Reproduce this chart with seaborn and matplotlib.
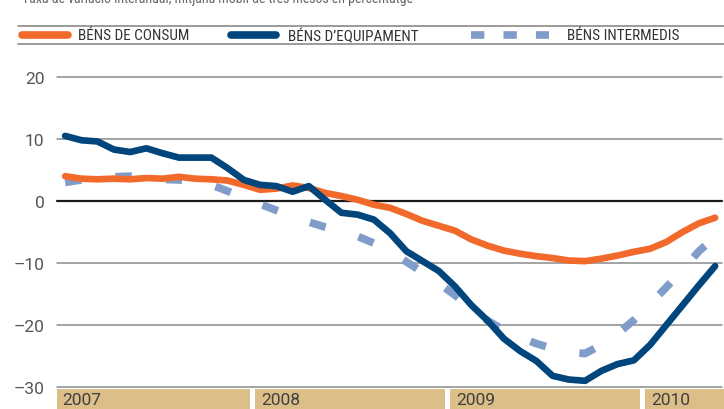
import matplotlib
matplotlib.use("Agg")
import matplotlib.pyplot as plt
import pandas as pd
import seaborn as sns

# Monthly series, Jan 2007 .. May 2010 (year-on-year change, %)
months = list(range(41))
consum = [4.0, 3.6, 3.5, 3.6, 3.5, 3.7, 3.6, 3.9, 3.6, 3.5, 3.3, 2.6,
          1.8, 2.0, 2.5, 2.1, 1.3, 0.8, 0.2, -0.6, -1.1, -2.1, -3.2, -4.0,
          -4.8, -6.2, -7.2, -8.0, -8.5, -8.9, -9.2, -9.6, -9.7, -9.3, -8.8, -8.2,
          -7.7, -6.6, -5.0, -3.6, -2.7]
equipament = [10.5, 9.8, 9.6, 8.3, 7.9, 8.5, 7.7, 7.0, 7.0, 7.0, 5.3, 3.4,
              2.6, 2.4, 1.5, 2.4, 0.2, -1.9, -2.2, -3.0, -5.2, -8.1, -9.7, -11.3,
              -13.8, -16.8, -19.3, -22.2, -24.2, -25.8, -28.2, -28.8, -29.0, -27.4, -26.3, -25.7,
              -23.2, -20.0, -16.8, -13.6, -10.5]
intermedis = [3.0, 3.4, 3.7, 3.9, 4.0, 3.8, 3.5, 3.4, 3.2, 2.6, 1.6, 0.5,
              -0.5, -1.5, -2.5, -3.4, -4.2, -4.9, -5.7, -6.8, -8.2, -9.8, -11.5, -13.3,
              -15.2, -17.3, -19.3, -20.8, -22.0, -23.0, -23.8, -24.4, -24.6, -23.2, -21.4, -19.2,
              -16.6, -13.9, -11.1, -8.1, -5.8]

series_names = ["BÉNS DE CONSUM", "BÉNS D\u2019EQUIPAMENT", "BÉNS INTERMEDIS"]
years = ["2007", "2008", "2009", "2010"]
year_start = [0, 12, 24, 36]
y_ticks = [20, 10, 0, -10, -20, -30]
y_labels = ["20", "10", "0", "\u201310", "\u201320", "\u201330"]

orange = "#F26A2B"
navy = "#00457C"
lightblue = "#7F9DC8"
tan = "#DCBE88"
grey = "#8A8A8A"
fam = ["Roboto Condensed", "Roboto", "DejaVu Sans"]
digits = ["Roboto", "DejaVu Sans"]

sns.set_style("white")
plt.rcParams["font.family"] = fam

W, H = 724, 410
fig = plt.figure(figsize=(W / 100, H / 100), dpi=100)

# main plotting area
ax = fig.add_axes([57 / W, 1 - 388 / H, 665 / W, 310 / H])
ax.set_xlim(-0.5, -0.5 + 665 / 16.25)
ax.set_ylim(-30, 20)

for t in y_ticks:
    if t == 0:
        ax.axhline(t, color="#1a1a1a", lw=1.6, clip_on=False, zorder=1)
    else:
        ax.axhline(t, color=grey, lw=1.1, clip_on=False, zorder=1)

df = pd.DataFrame({"month": months, "consum": consum,
                   "equipament": equipament, "intermedis": intermedis})

sns.lineplot(data=df, x="month", y="intermedis", ax=ax, color=lightblue,
             lw=5.6, zorder=2)
ax.lines[-1].set_dashes((2.1, 4.4))
ax.lines[-1].set_dash_capstyle("butt")
sns.lineplot(data=df, x="month", y="consum", ax=ax, color=orange, lw=4.8,
             zorder=3, solid_capstyle="round")
sns.lineplot(data=df, x="month", y="equipament", ax=ax, color=navy, lw=4.8,
             zorder=4, solid_capstyle="round")

ax.set_yticks(y_ticks, y_labels)
ax.set_xticks([])
ax.tick_params(axis="y", length=0, pad=9, labelsize=12.5, labelcolor="#555555")
for lab in ax.get_yticklabels():
    lab.set_family(digits)
ax.set_xlabel("")
ax.set_ylabel("")
sns.despine(ax=ax, left=True, bottom=True)

# year strip
axy = fig.add_axes([57 / W, 0, 667 / W, 20 / H])
axy.set_xlim(-0.5, -0.5 + 667 / 16.25)
axy.set_ylim(0, 1)
for i, (yr, s) in enumerate(zip(years, year_start)):
    left = -0.5 if i == 0 else s - 0.3
    right = year_start[i + 1] - 0.6 if i + 1 < len(years) else 50
    axy.axvspan(left, right, color=tan, lw=0)
    axy.text(left + 0.35, 0.1, yr, fontsize=12.5, color="#3f3f3f",
             family=digits, va="bottom", ha="left")
axy.axis("off")

# legend band at the top
axl = fig.add_axes([0, 1 - 50 / H, 1, 50 / H])
axl.set_xlim(0, W)
axl.set_ylim(50, 0)
axl.axis("off")
axl.text(22, 3, "Taxa de variació interanual, mitjana mòbil de tres mesos en percentatge",
         fontsize=10, color="#666666", va="baseline", ha="left")
axl.plot([18, W], [27, 27], color=grey, lw=1.2)
axl.plot([18, W], [45, 45], color=grey, lw=1.2)
axl.plot([22, 68], [36, 36], color=orange, lw=5.5, solid_capstyle="round")
axl.plot([231, 276], [36, 36], color=navy, lw=5.5, solid_capstyle="round")
dl = axl.plot([471, 549], [36, 36], color=lightblue, lw=5.5)[0]
dl.set_dashes((1.75, 2.5))
dl.set_dash_capstyle("butt")
for x, name in zip([78, 288, 567], series_names):
    axl.text(x, 36.5, name, fontsize=11, color="#333333",
             va="center", ha="left")

fig.savefig("out.png", dpi=100)
